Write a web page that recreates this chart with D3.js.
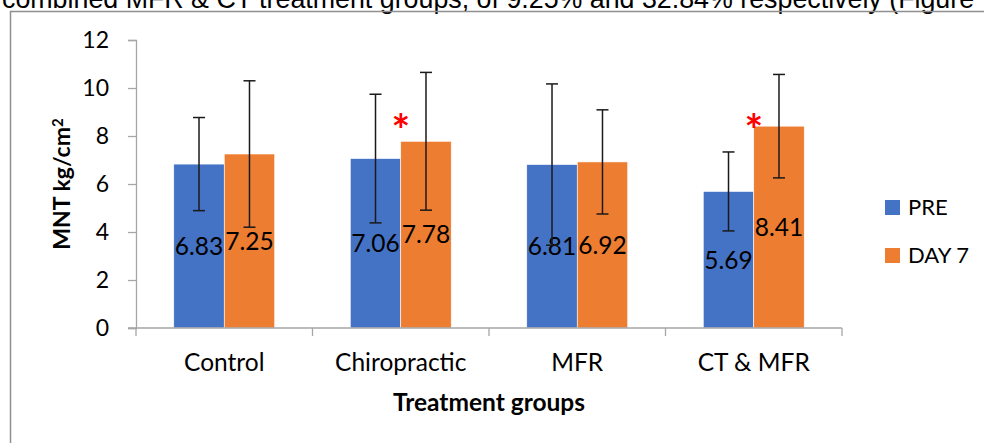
<!DOCTYPE html>
<html>
<head>
<meta charset="utf-8">
<script src="https://cdn.jsdelivr.net/npm/d3@7/dist/d3.min.js"></script>
<style>
  html, body { margin: 0; padding: 0; background: #fff; }
  svg { display: block; }
</style>
</head>
<body>
<svg id="chart" width="984" height="443"></svg>
<script>
// ---- data ----
const categories = ["Control", "Chiropractic", "MFR", "CT & MFR"];
const seriesNames = ["PRE", "DAY 7"];
const preValues = [6.83, 7.06, 6.81, 5.69];
const day7Values = [7.25, 7.78, 6.92, 8.41];
const preErrors = [1.94, 2.68, 3.36, 1.645];
const day7Errors = [3.05, 2.87, 2.17, 2.155];
const significant = [false, true, false, true];
const sigLevel = 8.65;
const yTicks = [0, 2, 4, 6, 8, 10, 12];
const colors = ["#4472C4", "#ED7D31"];
const headerText = "combined MFR & CT treatment groups, of 9.25% and 32.84% respectively (Figure";

const svg = d3.select("#chart");
const FONT = "Lato, 'Open Sans', sans-serif";

// frame border + header text (clipped at top, as in the source page)
svg.append("text")
  .attr("x", 2).attr("y", 7.5)
  .attr("font-family", "'Liberation Sans', Arial, sans-serif")
  .attr("font-size", 26.8)
  .attr("fill", "#000")
  .text(headerText);
svg.append("path")
  .attr("d", "M10.5,443 V11.5 H984")
  .attr("fill", "none").attr("stroke", "#8f8f8f").attr("stroke-width", 1.5);

// scales
const x0 = d3.scaleBand().domain(categories).range([136, 842])
  .paddingInner(0.428).paddingOuter(0.214);
const x1 = d3.scaleBand().domain(seriesNames).range([0, x0.bandwidth()]);
const y = d3.scaleLinear().domain([0, 12]).range([328, 40]);

const axisColor = "#a6a6a6";

// y axis
const yAxis = svg.append("g").attr("transform", "translate(136,0)")
  .call(d3.axisLeft(y).tickValues(yTicks).tickSize(8).tickPadding(19).tickFormat(d3.format("d")));
yAxis.select(".domain").attr("stroke", axisColor).attr("stroke-width", 1.3);
yAxis.selectAll(".tick line").attr("stroke", axisColor).attr("stroke-width", 1.3);
yAxis.selectAll(".tick text").attr("font-family", FONT).attr("font-size", 23).attr("fill", "#000");

// bars
const rows = categories.map((c, i) => ({
  cat: c,
  vals: [
    { s: seriesNames[0], v: preValues[i], e: preErrors[i], c: colors[0] },
    { s: seriesNames[1], v: day7Values[i], e: day7Errors[i], c: colors[1] }
  ],
  sig: significant[i]
}));

const groups = svg.append("g").selectAll("g").data(rows).join("g")
  .attr("transform", d => `translate(${x0(d.cat)},0)`);

groups.selectAll("rect").data(d => d.vals).join("rect")
  .attr("x", d => x1(d.s))
  .attr("width", x1.bandwidth())
  .attr("y", d => y(d.v))
  .attr("height", d => y(0) - y(d.v))
  .attr("fill", d => d.c)
  .attr("stroke", "#fff").attr("stroke-width", 0.6);

// data labels (centered in bar)
groups.selectAll("text.lbl").data(d => d.vals).join("text")
  .attr("class", "lbl")
  .attr("x", d => x1(d.s) + x1.bandwidth() / 2)
  .attr("y", d => (y(d.v) + y(0)) / 2)
  .attr("dy", "0.36em")
  .attr("text-anchor", "middle")
  .attr("font-family", FONT).attr("font-size", 24.5).attr("fill", "#000")
  .text(d => d.v.toFixed(2));

// error bars
const eb = groups.selectAll("g.err").data(d => d.vals).join("g").attr("class", "err")
  .attr("stroke", "#1a1a1a").attr("stroke-width", 1.5);
eb.append("line")
  .attr("x1", d => x1(d.s) + x1.bandwidth() / 2)
  .attr("x2", d => x1(d.s) + x1.bandwidth() / 2)
  .attr("y1", d => y(d.v + d.e)).attr("y2", d => y(d.v - d.e));
eb.append("line")
  .attr("x1", d => x1(d.s) + x1.bandwidth() / 2 - 6)
  .attr("x2", d => x1(d.s) + x1.bandwidth() / 2 + 6)
  .attr("y1", d => y(d.v + d.e)).attr("y2", d => y(d.v + d.e));
eb.append("line")
  .attr("x1", d => x1(d.s) + x1.bandwidth() / 2 - 6)
  .attr("x2", d => x1(d.s) + x1.bandwidth() / 2 + 6)
  .attr("y1", d => y(d.v - d.e)).attr("y2", d => y(d.v - d.e));

// significance asterisks
groups.filter(d => d.sig).append("text")
  .attr("x", x0.bandwidth() / 2)
  .attr("y", y(sigLevel))
  .attr("dy", "0.58em")
  .attr("text-anchor", "middle")
  .attr("font-family", FONT).attr("font-weight", "bold")
  .attr("font-size", 44).attr("fill", "#FF0000")
  .text("*");

// x axis
const step = x0.step();
svg.append("line").attr("x1", 128).attr("x2", 842).attr("y1", 328).attr("y2", 328)
  .attr("stroke", axisColor).attr("stroke-width", 1.3);
svg.append("g").selectAll("line").data(d3.range(categories.length + 1)).join("line")
  .attr("x1", i => 136 + i * step).attr("x2", i => 136 + i * step)
  .attr("y1", 328).attr("y2", 336)
  .attr("stroke", axisColor).attr("stroke-width", 1.3);
svg.append("g").selectAll("text").data(categories).join("text")
  .attr("x", d => x0(d) + x0.bandwidth() / 2)
  .attr("y", 371)
  .attr("text-anchor", "middle")
  .attr("font-family", FONT).attr("font-size", 24.5).attr("fill", "#000")
  .text(d => d);

// axis titles
svg.append("text")
  .attr("x", 489).attr("y", 411)
  .attr("text-anchor", "middle")
  .attr("font-family", FONT).attr("font-weight", "bold").attr("font-size", 24.5).attr("fill", "#000")
  .text("Treatment groups");

const yt = svg.append("text")
  .attr("transform", "translate(70,184) rotate(-90)")
  .attr("text-anchor", "middle")
  .attr("font-family", FONT).attr("font-weight", "bold").attr("font-size", 23).attr("fill", "#000");
yt.append("tspan").text("MNT kg/cm");
yt.append("tspan").attr("dy", "-0.45em").attr("font-size", 15).text("2");

// legend
const legend = svg.append("g").selectAll("g").data(seriesNames).join("g")
  .attr("transform", (d, i) => `translate(885,${200 + i * 48})`);
legend.append("rect").attr("width", 15).attr("height", 15).attr("fill", (d, i) => colors[i]);
legend.append("text").attr("x", 23).attr("y", 15)
  .attr("font-family", FONT).attr("font-size", 22).attr("fill", "#000")
  .text(d => d);
</script>
</body>
</html>
